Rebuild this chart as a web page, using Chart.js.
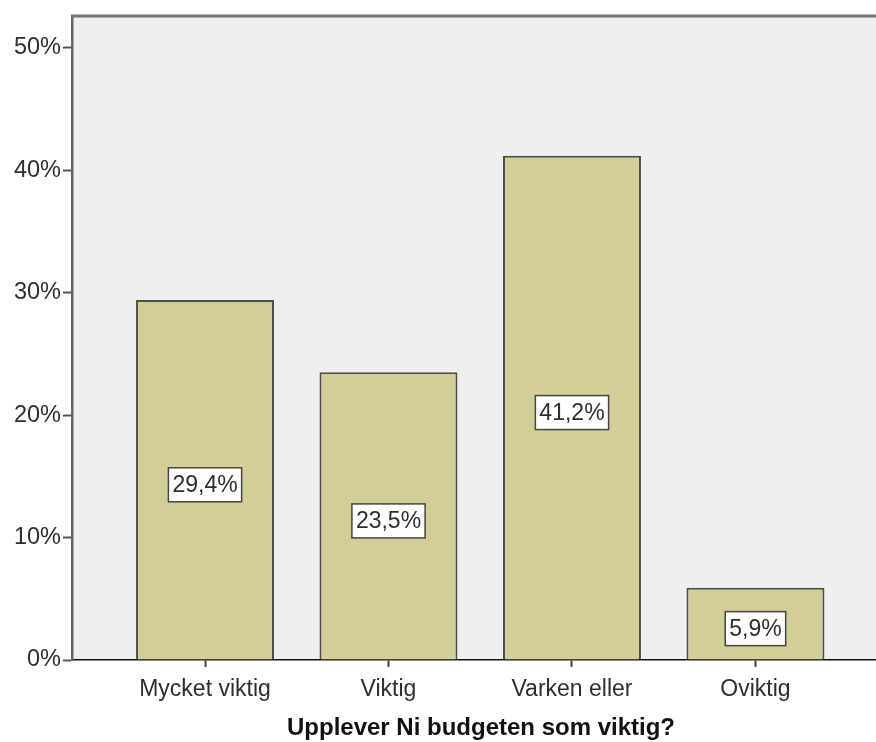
<!DOCTYPE html>
<html>
<head>
<meta charset="utf-8">
<script src="https://cdn.jsdelivr.net/npm/chart.js@4"></script>
<style>
  html, body { margin: 0; padding: 0; background: #fff; }
  #wrap { width: 876px; height: 742px; }
</style>
</head>
<body>
<div id="wrap"><canvas id="chart" width="876" height="742"></canvas></div>
<script>
// Answer categories and percent of respondents
const categories = ['Mycket viktig', 'Viktig', 'Varken eller', 'Oviktig'];
const percents = [29.4, 23.5, 41.2, 5.9];
const yTicks = [0, 10, 20, 30, 40, 50];
const axisTitle = 'Upplever Ni budgeten som viktig?';

const plotBg   = '#efefef';
const barFill  = '#d3ce97';
const barEdge  = '#4d4d4d';
const textColor = '#2e2e2e';
const fontFamily = '"Liberation Sans", Arial, sans-serif';

function pct(v) {
    return v.toFixed(1).replace('.', ',') + '%';
}

// grey plot panel, top border line and bottom title
const panelPlugin = {
    id: 'panel',
    beforeDraw(chart) {
        const { ctx, chartArea: a } = chart;
        ctx.save();
        ctx.fillStyle = plotBg;
        ctx.fillRect(a.left, a.top, a.right - a.left, a.bottom - a.top);
        ctx.restore();
    },
    afterDraw(chart) {
        const { ctx, chartArea: a } = chart;
        ctx.save();
        ctx.strokeStyle = '#747474';
        ctx.lineWidth = 3;
        ctx.beginPath();
        ctx.moveTo(a.left - 1, a.top);
        ctx.lineTo(chart.width, a.top);
        ctx.stroke();

        ctx.fillStyle = '#111';
        ctx.font = 'bold 24px ' + fontFamily;
        ctx.textAlign = 'center';
        ctx.textBaseline = 'middle';
        ctx.fillText(axisTitle, 481, 728);
        ctx.restore();
    }
};

// boxed value labels in the middle of each bar
const valueBoxPlugin = {
    id: 'valueBoxes',
    afterDatasetsDraw(chart) {
        const { ctx } = chart;
        const meta = chart.getDatasetMeta(0);
        ctx.save();
        ctx.font = '23px ' + fontFamily;
        ctx.textAlign = 'center';
        ctx.textBaseline = 'middle';
        meta.data.forEach((bar, i) => {
            const txt = pct(percents[i]);
            const cy = (bar.y + bar.base) / 2 + 5;
            const w = ctx.measureText(txt).width + 8;
            const h = 34;
            ctx.fillStyle = '#ffffff';
            ctx.fillRect(bar.x - w / 2, cy - h / 2, w, h);
            ctx.strokeStyle = '#444';
            ctx.lineWidth = 1.5;
            ctx.strokeRect(bar.x - w / 2, cy - h / 2, w, h);
            ctx.fillStyle = textColor;
            ctx.fillText(txt, bar.x, cy + 1);
        });
        ctx.restore();
    }
};

new Chart(document.getElementById('chart'), {
    type: 'bar',
    data: {
        datasets: [{
            data: percents.map((v, i) => ({ x: i, y: v })),
            backgroundColor: barFill,
            borderColor: barEdge,
            borderWidth: 2,
            borderSkipped: 'bottom',
            barPercentage: 0.752,
            categoryPercentage: 1
        }]
    },
    options: {
        responsive: false,
        animation: false,
        events: [],
        layout: { padding: { top: 15, right: 0, left: 0, bottom: 0 } },
        plugins: {
            legend: { display: false },
            tooltip: { enabled: false }
        },
        scales: {
            x: {
                type: 'linear',
                offset: false,
                min: -0.725,
                max: 3.657,
                afterBuildTicks(scale) {
                    scale.ticks = categories.map((c, i) => ({ value: i }));
                },
                afterFit(scale) { scale.height = 82; },
                grid: {
                    offset: false,
                    drawOnChartArea: false,
                    drawTicks: true,
                    tickLength: 7,
                    tickColor: '#444',
                    tickWidth: 2
                },
                border: { color: '#111', width: 1.5 },
                ticks: {
                    autoSkip: false,
                    maxRotation: 0,
                    padding: 9,
                    color: textColor,
                    font: { family: fontFamily, size: 23 },
                    callback: (v) => categories[v]
                }
            },
            y: {
                min: 0,
                max: 52.6,
                afterBuildTicks(scale) {
                    scale.ticks = yTicks.map(v => ({ value: v }));
                },
                afterFit(scale) { scale.width = 72; },
                grid: {
                    drawOnChartArea: false,
                    drawTicks: true,
                    tickLength: 9,
                    tickColor: '#555',
                    tickWidth: 2
                },
                border: { color: '#666', width: 2.5 },
                ticks: {
                    padding: 2,
                    color: textColor,
                    font: { family: fontFamily, size: 23.5 },
                    callback: (v) => v + '%'
                }
            }
        }
    },
    plugins: [panelPlugin, valueBoxPlugin]
});
</script>
</body>
</html>
